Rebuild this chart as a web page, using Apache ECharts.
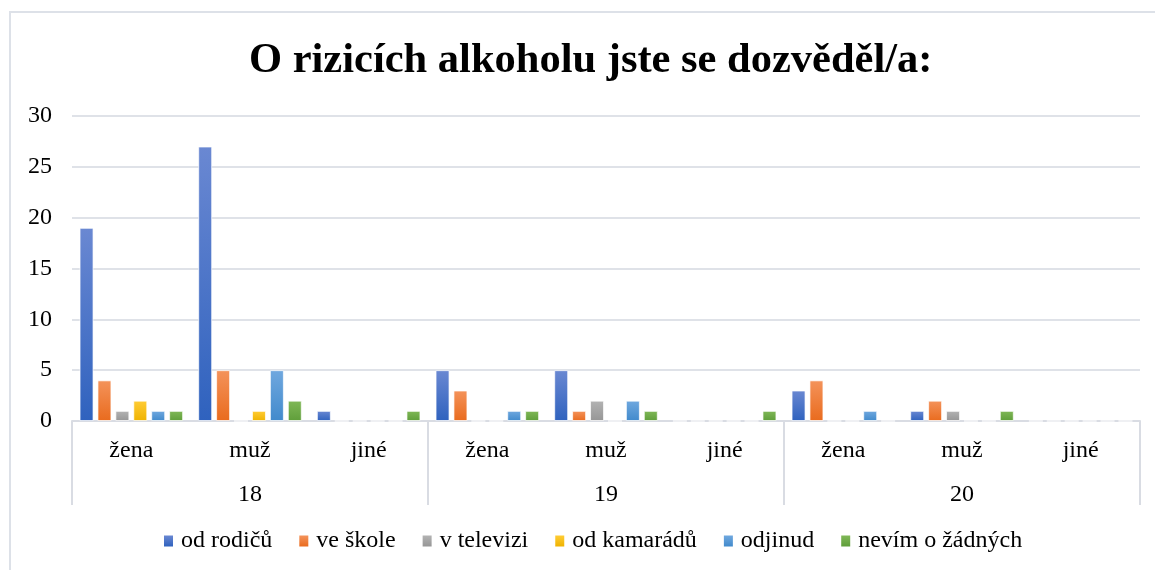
<!DOCTYPE html>
<html>
<head>
<meta charset="utf-8">
<script src="https://cdn.jsdelivr.net/npm/echarts@6/dist/echarts.min.js"></script>
<style>
  html, body { margin: 0; padding: 0; background: #fff; }
  #chart { width: 1155px; height: 570px; }
</style>
</head>
<body>
<div id="chart"></div>
<script>
  // data
  var ages = ["18", "19", "20"];
  var genders = ["žena", "muž", "jiné"];
  var categories = [];
  ages.forEach(function () { genders.forEach(function (g) { categories.push(g); }); });

  var seriesNames = ["od rodičů", "ve škole", "v televizi", "od kamarádů", "odjinud", "nevím o žádných"];
  var odRodicu   = [19, 27, 1, 5, 5, 0, 3, 1, 0];
  var veSkole    = [4, 5, 0, 3, 1, 0, 4, 2, 0];
  var vTelevizi  = [1, 0, 0, 0, 2, 0, 0, 1, 0];
  var odKamaradu = [2, 1, 0, 0, 0, 0, 0, 0, 0];
  var odjinud    = [1, 5, 0, 1, 2, 0, 1, 0, 0];
  var nevim      = [1, 2, 1, 1, 1, 1, 0, 1, 0];
  var values = [odRodicu, veSkole, vTelevizi, odKamaradu, odjinud, nevim];

  // gradient top -> bottom, like the office bars
  var colors = [
    ["#6a88d2", "#2f62be"],
    ["#f4935b", "#e96b1e"],
    ["#b3b3b3", "#969696"],
    ["#ffcc35", "#efb300"],
    ["#70a8df", "#418acc"],
    ["#80b857", "#5f9e3a"]
  ];

  var font = "'Liberation Serif', 'Times New Roman', serif";
  var chart = echarts.init(document.getElementById("chart"));

  var series = seriesNames.map(function (name, i) {
    return {
      name: name,
      type: "bar",
      xAxisIndex: 0,
      barWidth: 14,
      barGap: "28%",
      data: values[i],
      itemStyle: {
        color: new echarts.graphic.LinearGradient(0, 0, 0, 1, [
          { offset: 0, color: colors[i][0] },
          { offset: 1, color: colors[i][1] }
        ]),
        borderColor: "rgba(255,255,255,0.7)",
        borderWidth: 1
      }
    };
  });

  var option = {
    backgroundColor: "#fff",
    animation: false,
    title: {
      text: "O rizicích alkoholu jste se dozvěděl/a:",
      left: 244,
      top: 35,
      textStyle: { fontFamily: font, fontSize: 42.5, fontWeight: "bold", color: "#000" }
    },
    legend: {
      bottom: 12,
      left: 159,
      icon: "rect",
      itemWidth: 9,
      itemHeight: 11,
      itemGap: 27,
      itemStyle: { borderWidth: 0 },
      textStyle: { fontFamily: font, fontSize: 24, color: "#000", padding: [0, 0, 0, 3] },
      data: seriesNames
    },
    grid: { left: 72, right: 15, top: 116, bottom: 149 },
    xAxis: [
      {
        type: "category",
        data: categories,
        axisLine: { show: true, lineStyle: { color: "#d9dce3", width: 2 } },
        axisTick: { show: false },
        axisLabel: { fontFamily: font, fontSize: 24, color: "#000", margin: 18 }
      },
      {
        type: "category",
        data: ages,
        position: "bottom",
        axisLine: { show: false },
        axisTick: { show: true, length: 84, lineStyle: { color: "#d9dce3", width: 2 } },
        axisLabel: { fontFamily: font, fontSize: 24, color: "#000", margin: 62 }
      }
    ],
    yAxis: {
      type: "value",
      min: 0,
      max: 30,
      interval: 5,
      axisLine: { show: false },
      axisTick: { show: false },
      axisLabel: { fontFamily: font, fontSize: 24, color: "#000", margin: 20 },
      splitLine: { lineStyle: { color: "#dfe2e8", width: 2 } }
    },
    series: series,
    graphic: [{
      type: "rect",
      shape: { x: 10, y: 12, width: 1160, height: 570 },
      style: { fill: "none", stroke: "#dde1e8", lineWidth: 2 },
      silent: true,
      z: -1
    }]
  };

  chart.setOption(option);
</script>
</body>
</html>
